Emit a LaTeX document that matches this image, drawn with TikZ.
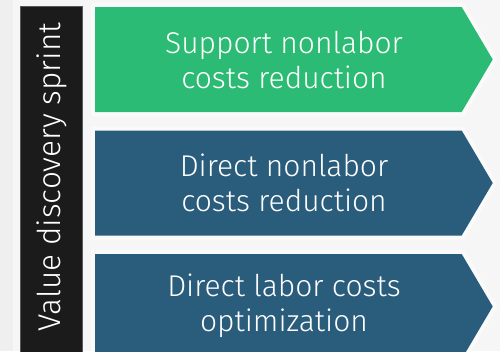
\documentclass[tikz,border=0pt]{standalone}
\usepackage{fontspec}
\setmainfont{Fira Sans Light}
\definecolor{bgout}{HTML}{EFEFEF}
\definecolor{bgin}{HTML}{F6F6F6}
\definecolor{cgreen}{HTML}{2CBB74}
\definecolor{cblue}{HTML}{2A5D7C}
\definecolor{cbar}{HTML}{1B1B1B}
\tikzset{
  halo/.style={draw=white, line width=8pt, opacity=0.55, line join=miter},
  chev/.style={line join=miter},
  lbl/.style={text=white, align=center, font=\fontsize{30}{35}\selectfont, inner sep=0pt},
  vlbl/.style={text=white, rotate=90, font=\fontsize{31.5}{36}\selectfont, inner sep=0pt},
}
\begin{document}
\begin{tikzpicture}[x=1pt,y=-1pt]
\useasboundingbox (0,0) rectangle (500,351);
\fill[bgout] (0,0) rectangle (500,351);
\fill[bgin] (13,0) rectangle (500,351);
% black bar
\fill[cbar, draw=gray!70!black, line width=0.6pt] (20.5,6) rectangle (82,355);
\node[vlbl] (bar) at (52,177) {Value discovery sprint};
% chevrons
\foreach \t/\c in {7/cgreen, 130.5/cblue, 254/cblue}{
  \path[halo] (95,\t) -- (461.7,\t) -- (492.7,\t+52.5) -- (461.7,\t+105) -- (95,\t+105) -- cycle;
  \fill[\c, chev] (95,\t) -- (461.7,\t) -- (492.7,\t+52.5) -- (461.7,\t+105) -- (95,\t+105) -- cycle;
}
\node[lbl] (c1) at (284,60) {Support nonlabor\\costs reduction};
\node[lbl] (c2) at (284,183) {Direct nonlabor\\costs reduction};
\node[lbl] (c3) at (284,306) {Direct labor costs\\optimization};
\end{tikzpicture}
\end{document}
